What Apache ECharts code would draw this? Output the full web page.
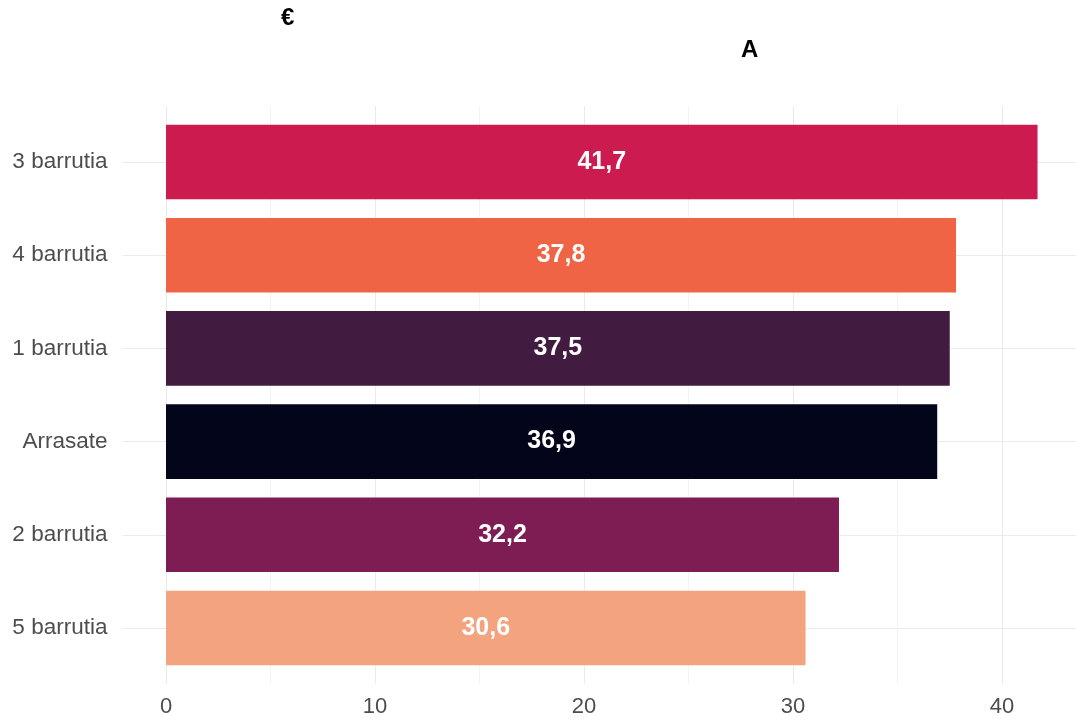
<!DOCTYPE html>
<html>
<head>
<meta charset="utf-8">
<style>
  html, body { margin: 0; padding: 0; background: #ffffff; }
  #chart { width: 1076px; height: 722px; }
</style>
<script src="https://cdn.jsdelivr.net/npm/echarts@6/dist/echarts.min.js"></script>
</head>
<body>
<div id="chart"></div>
<script>
// Categories, top to bottom
const categories = ['3 barrutia', '4 barrutia', '1 barrutia', 'Arrasate', '2 barrutia', '5 barrutia'];
// Values shown on the bars
const values = [41.7, 37.8, 37.5, 36.9, 32.2, 30.6];
// One fill per bar
const barColors = ['#CB1B4F', '#EE6445', '#421C40', '#03051A', '#7E1D54', '#F3A47F'];
// Labelled ticks on the value axis
const xTicks = [0, 10, 20, 30, 40];
const titleText = '€';
const subtitleText = 'A';

// Layout: pixel positions of value 0 and of the last labelled tick
const X_ZERO = 166;
const X_LAST = 1002;
const ROW_TOP_CENTER = 162;   // centre of the first row
const ROW_STEP = 93.2;        // distance between row centres

const lastTick = xTicks[xTicks.length - 1];
const pxPerUnit = (X_LAST - X_ZERO) / lastTick;
const maxVal = Math.max(...values);
const pad = maxVal * 0.05;
const xMin = -pad;
const xMax = maxVal + pad;

const barsLeft = X_ZERO - pad * pxPerUnit;
const barsWidth = (xMax - xMin) * pxPerUnit;
const barsTop = ROW_TOP_CENTER - ROW_STEP / 2;
const barsHeight = ROW_STEP * categories.length;
const panelTop = ROW_TOP_CENTER - ROW_STEP * 0.6;
const panelHeight = ROW_STEP * (categories.length + 0.2);

const fmt = v => v.toFixed(1).replace('.', ',');
const FONT = '"Liberation Sans", Arial, sans-serif';

const chart = echarts.init(document.getElementById('chart'), null, { renderer: 'canvas' });

chart.setOption({
  backgroundColor: '#ffffff',
  animation: false,
  title: [
    { text: titleText, left: 276, top: 1,
      textStyle: { fontFamily: FONT, fontSize: 24, fontWeight: 'bold', color: '#000000' } },
    { text: subtitleText, left: 736, top: 33,
      textStyle: { fontFamily: FONT, fontSize: 24, fontWeight: 'bold', color: '#000000' } }
  ],
  grid: [
    // panel background: vertical grid lines and value labels
    { left: X_ZERO, top: panelTop, width: lastTick * pxPerUnit, height: panelHeight,
      containLabel: false, outerBoundsMode: 'none' },
    // bars and category rows (the panel runs slightly past the right edge)
    { left: barsLeft, top: barsTop, width: barsWidth, height: barsHeight,
      containLabel: false, outerBoundsMode: 'none' }
  ],
  xAxis: [
    {
      gridIndex: 0, type: 'value', min: 0, max: lastTick, interval: 5,
      axisLine: { show: false }, axisTick: { show: false },
      axisLabel: {
        margin: 12, color: '#4D4D4D', fontSize: 22, fontFamily: FONT,
        formatter: v => (xTicks.indexOf(v) >= 0 ? String(v) : '')
      },
      splitLine: { show: true, lineStyle: { color: ['#EBEBEB', '#F3F3F3'], width: 1 } }
    },
    {
      gridIndex: 1, type: 'value', min: xMin, max: xMax, show: false,
      splitLine: { show: false }
    }
  ],
  yAxis: [
    { gridIndex: 0, type: 'value', min: 0, max: 1, show: false, splitLine: { show: false } },
    {
      gridIndex: 1, type: 'category', data: categories, inverse: true,
      axisLine: { show: false }, axisTick: { show: false },
      axisLabel: { margin: 15, color: '#4D4D4D', fontSize: 22.5, fontFamily: FONT },
      splitLine: { show: true, alignWithLabel: true, lineStyle: { color: '#EBEBEB', width: 1 } }
    }
  ],
  series: [
    {
      type: 'bar',
      xAxisIndex: 1, yAxisIndex: 1,
      barWidth: '80%',
      data: values.map((v, i) => ({ value: v, itemStyle: { color: barColors[i] } })),
      label: {
        show: true, position: 'inside',
        formatter: p => fmt(p.value),
        color: '#ffffff', fontSize: 25, fontWeight: 'bold', fontFamily: FONT
      }
    }
  ]
});
</script>
</body>
</html>
